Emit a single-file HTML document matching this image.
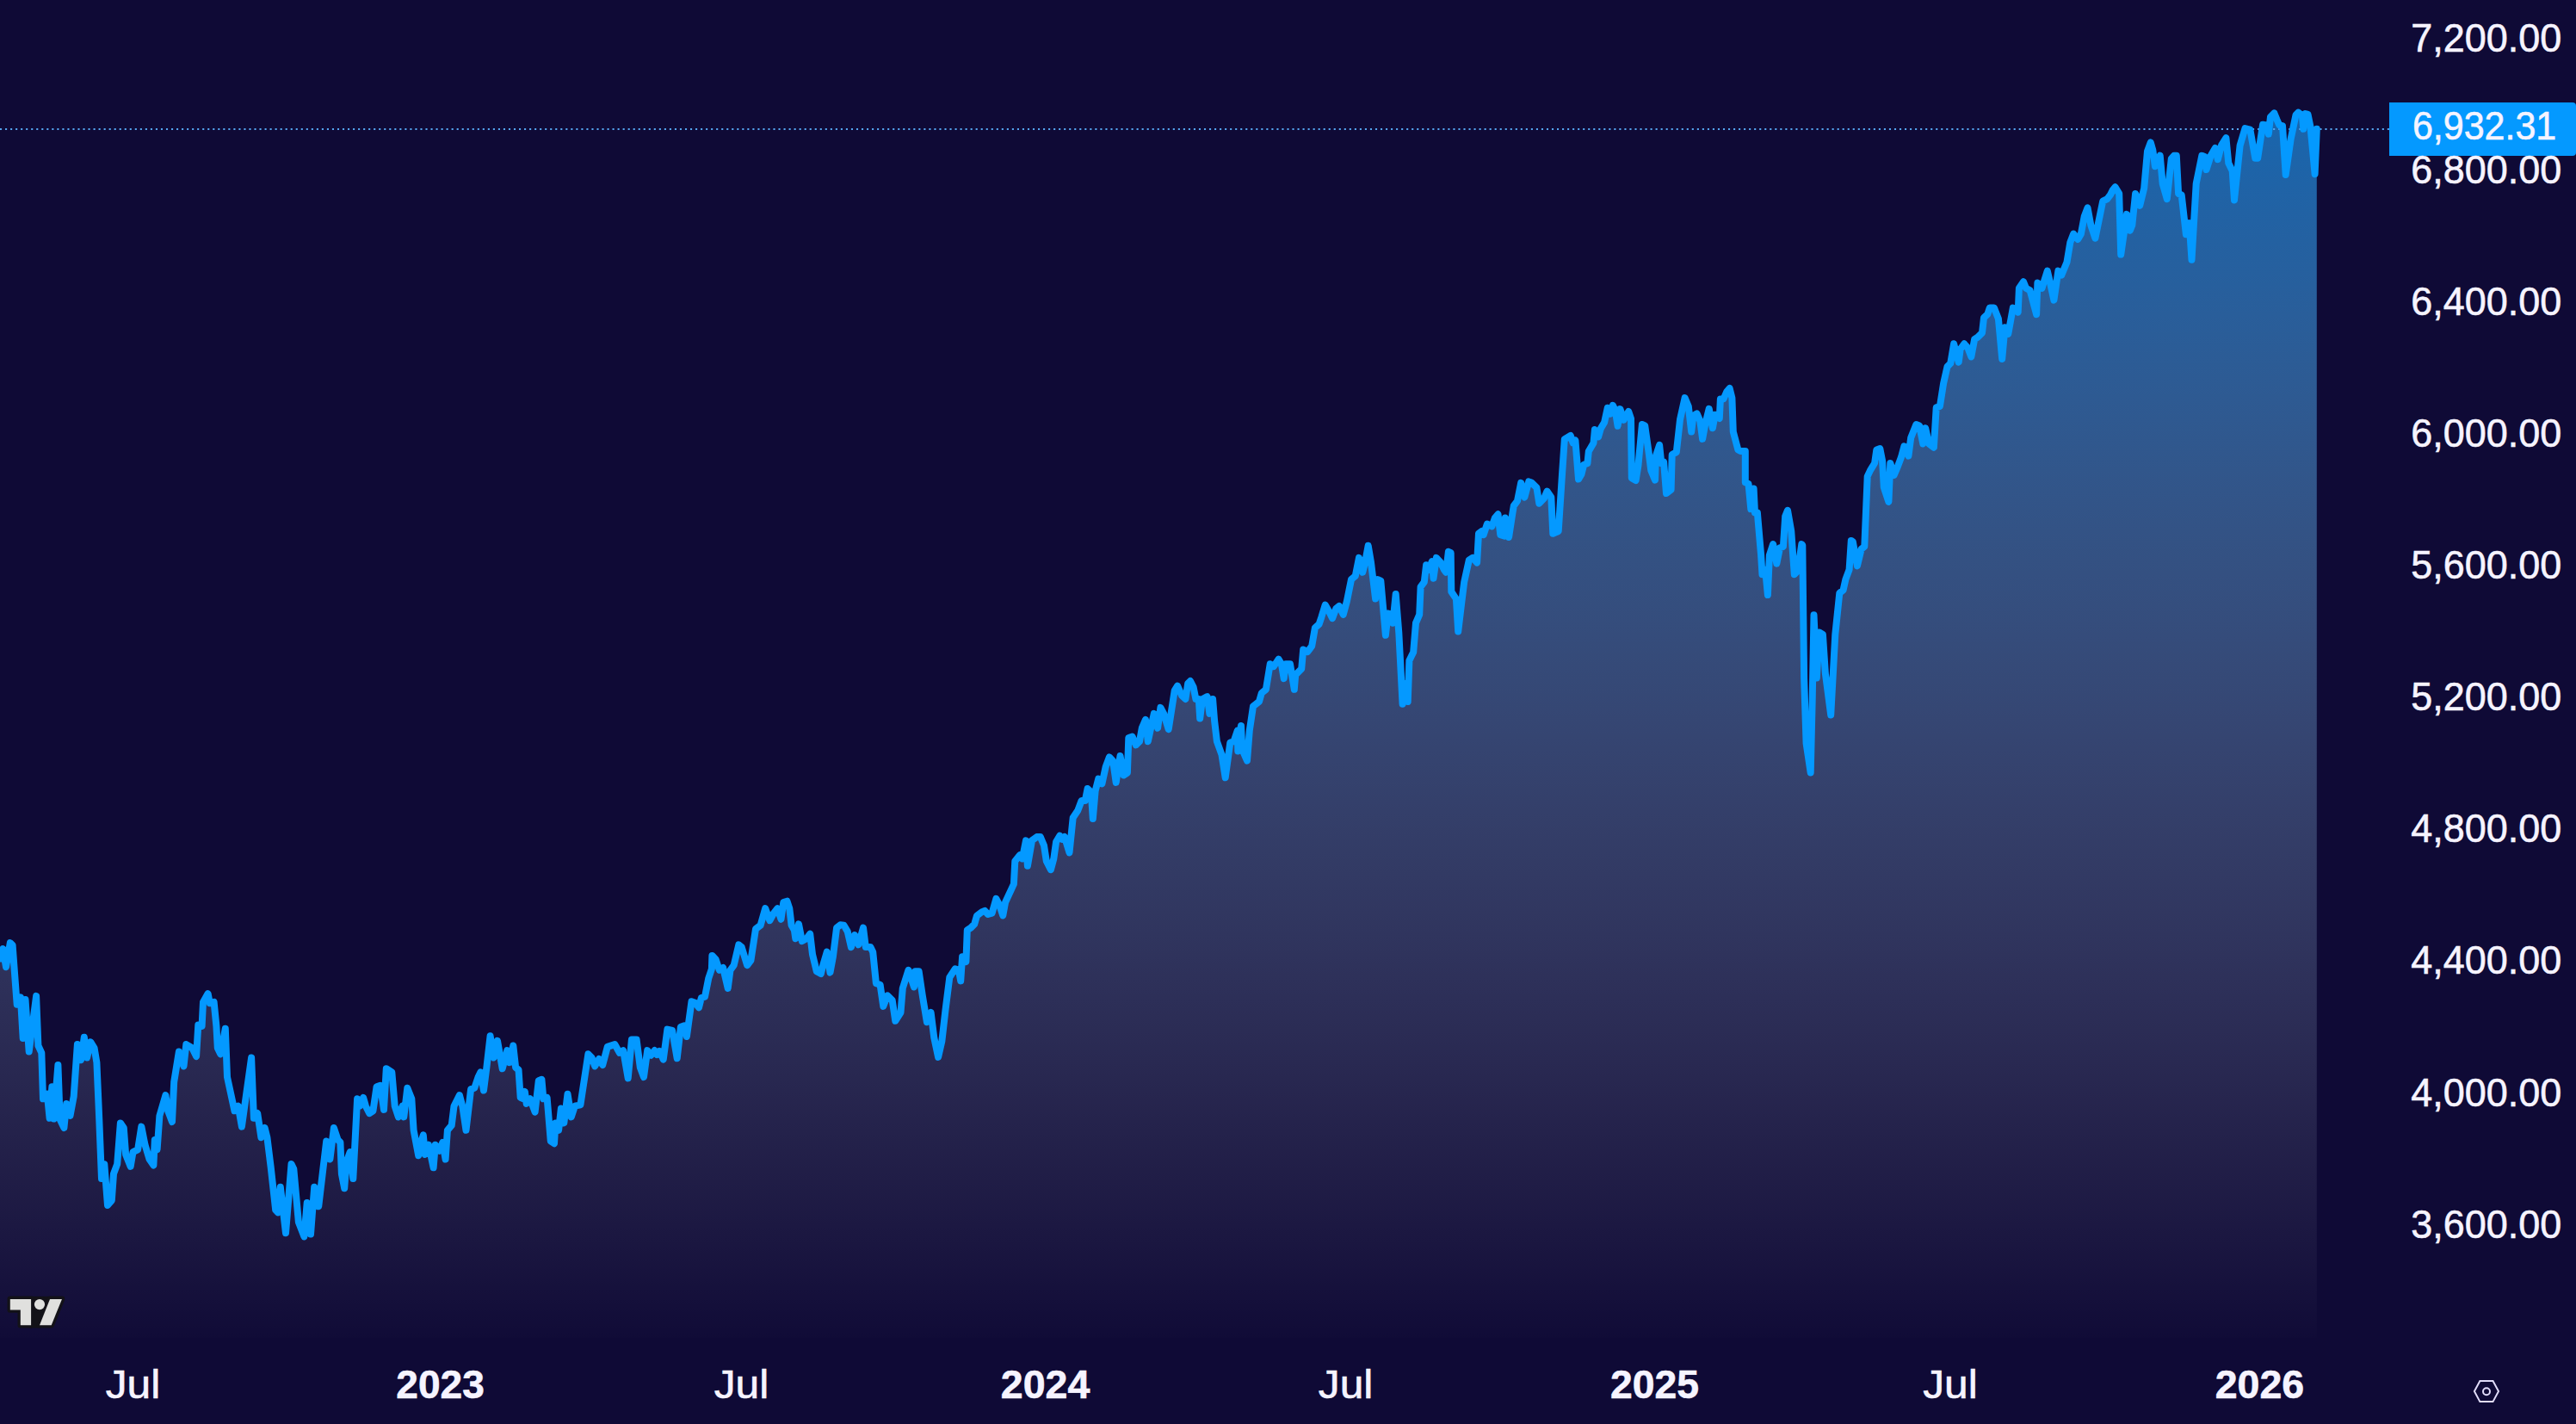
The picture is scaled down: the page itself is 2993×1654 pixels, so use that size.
<!DOCTYPE html>
<html><head><meta charset="utf-8"><title>Chart</title>
<style>
html,body{margin:0;padding:0;background:#0f0a36;}
body{width:2993px;height:1654px;overflow:hidden;font-family:"Liberation Sans",sans-serif;}
svg{display:block;}
text{font-family:"Liberation Sans",sans-serif;font-size:45.5px;fill:#f6f4ff;stroke:#f6f4ff;stroke-width:0.6px;}
</style></head><body>
<svg width="2993" height="1654" viewBox="0 0 2993 1654">
<defs>
<linearGradient id="g" gradientUnits="userSpaceOnUse" x1="0" y1="0" x2="0" y2="1568">
<stop offset="0" stop-color="#0a9bff" stop-opacity="0.65"/>
<stop offset="1" stop-color="#ffffff" stop-opacity="0"/>
</linearGradient>
</defs>
<rect width="2993" height="1654" fill="#0f0a36"/>
<path d="M-6.0,1112.0 L0.0,1113.4 L3.4,1102.1 L7.0,1123.2 L11.8,1095.1 L14.6,1097.9 L19.7,1166.7 L23.9,1158.3 L26.7,1206.1 L29.5,1161.1 L33.7,1221.5 L42.1,1156.9 L44.4,1214.5 L48.3,1222.9 L50.0,1276.3 L54.8,1270.7 L57.6,1298.8 L60.4,1262.2 L62.4,1299.6 L67.4,1237.0 L69.7,1300.2 L74.4,1310.0 L77.2,1281.9 L81.5,1296.0 L85.7,1273.5 L89.9,1213.1 L94.1,1231.3 L97.8,1204.7 L101.1,1228.5 L105.3,1210.3 L109.6,1217.3 L112.4,1234.2 L115.2,1298.8 L118.0,1369.0 L121.3,1352.1 L125.0,1399.9 L129.8,1394.3 L132.0,1363.4 L136.2,1352.1 L139.9,1304.4 L143.8,1310.0 L146.1,1340.9 L151.7,1354.9 L154.5,1338.1 L160.1,1335.3 L164.3,1308.6 L168.5,1329.7 L173.6,1346.5 L178.4,1353.5 L179.8,1324.0 L182.6,1335.3 L185.4,1296.0 L192.4,1272.1 L195.2,1290.3 L200.0,1303.0 L202.2,1256.6 L207.9,1221.5 L213.5,1238.4 L216.3,1213.1 L223.3,1217.3 L228.1,1227.1 L230.3,1190.6 L234.6,1192.0 L236.0,1163.9 L241.6,1154.1 L243.8,1165.3 L248.6,1163.9 L251.4,1192.0 L252.8,1217.3 L256.2,1224.3 L261.8,1194.8 L264.0,1251.0 L272.5,1290.3 L276.7,1284.7 L280.9,1308.6 L292.1,1228.5 L294.9,1298.8 L299.2,1293.1 L303.4,1321.2 L307.6,1310.0 L310.4,1321.2 L314.6,1354.9 L320.2,1405.5 L323.0,1408.3 L325.8,1378.8 L332.0,1432.2 L338.5,1352.1 L341.3,1357.8 L346.9,1419.6 L353.4,1436.4 L356.7,1397.1 L361.0,1433.6 L365.2,1378.8 L370.2,1401.3 L379.2,1325.4 L383.4,1346.5 L387.9,1310.0 L392.6,1324.0 L395.4,1326.9 L396.9,1363.4 L400.2,1380.2 L402.5,1349.3 L406.7,1338.1 L410.3,1369.0 L415.1,1276.3 L417.9,1284.7 L422.1,1274.9 L424.9,1284.7 L429.2,1293.1 L433.4,1290.3 L437.6,1262.2 L441.8,1260.8 L446.0,1288.9 L448.8,1241.2 L455.3,1245.4 L458.7,1284.7 L462.9,1297.4 L467.6,1284.7 L469.3,1297.4 L473.3,1263.7 L478.3,1276.3 L480.6,1312.8 L486.2,1342.3 L488.1,1329.7 L491.8,1318.4 L493.8,1340.9 L498.0,1329.7 L503.6,1356.3 L505.8,1329.7 L510.6,1336.7 L514.3,1326.9 L517.6,1346.5 L519.9,1312.8 L524.7,1307.2 L527.5,1284.7 L533.9,1272.1 L537.3,1284.7 L541.5,1312.8 L547.1,1265.1 L551.3,1263.7 L555.6,1251.0 L558.4,1245.4 L562.0,1266.5 L565.4,1239.8 L569.6,1203.3 L573.8,1228.5 L578.0,1208.9 L583.7,1241.2 L589.3,1220.1 L592.1,1234.2 L596.3,1214.5 L599.1,1239.8 L602.5,1242.6 L604.7,1274.9 L608.1,1276.3 L609.8,1267.9 L611.7,1281.9 L616.0,1276.3 L621.6,1291.7 L625.8,1255.2 L629.4,1253.8 L631.4,1276.3 L635.6,1274.9 L639.8,1325.4 L644.0,1328.3 L645.4,1304.4 L649.1,1312.8 L651.9,1287.5 L655.3,1304.4 L659.5,1270.7 L663.7,1297.4 L667.9,1284.7 L674.4,1283.3 L683.4,1224.3 L687.6,1228.5 L691.2,1238.4 L696.0,1229.9 L700.2,1237.0 L705.8,1215.9 L714.3,1213.1 L719.9,1222.9 L724.1,1220.1 L729.7,1252.4 L733.9,1207.5 L739.6,1207.5 L743.8,1239.8 L748.0,1251.0 L752.2,1220.1 L756.4,1225.7 L760.6,1220.1 L763.4,1225.1 L766.2,1220.9 L770.7,1230.7 L775.4,1195.6 L781.1,1197.0 L786.7,1229.3 L790.9,1192.8 L795.1,1191.4 L797.9,1204.0 L803.5,1163.3 L807.8,1164.7 L812.0,1170.3 L814.8,1159.1 L819.0,1157.7 L823.2,1136.6 L826.9,1125.4 L827.4,1109.9 L831.6,1114.2 L835.8,1126.8 L840.1,1124.0 L845.7,1147.9 L848.5,1126.8 L852.7,1121.2 L858.3,1097.3 L861.7,1100.1 L868.1,1121.2 L872.4,1115.6 L878.0,1079.0 L883.6,1074.8 L889.2,1055.2 L894.3,1069.2 L899.0,1060.8 L903.3,1055.2 L907.5,1067.8 L910.3,1048.1 L914.5,1046.7 L917.3,1055.2 L919.6,1074.8 L922.9,1080.4 L924.3,1090.3 L928.0,1073.4 L931.9,1093.1 L937.0,1090.3 L941.2,1084.7 L944.0,1108.5 L948.8,1128.2 L953.8,1131.0 L956.6,1119.8 L960.8,1105.7 L964.5,1129.6 L967.9,1111.3 L972.1,1077.6 L976.3,1074.3 L980.5,1074.8 L984.7,1081.9 L988.9,1100.1 L993.1,1086.1 L997.4,1097.3 L1003.0,1077.6 L1005.8,1100.1 L1011.4,1100.1 L1014.2,1105.7 L1017.9,1142.2 L1022.6,1143.7 L1026.3,1168.9 L1031.1,1156.3 L1036.7,1161.9 L1040.3,1185.8 L1046.5,1176.0 L1048.8,1147.9 L1055.5,1126.8 L1062.0,1146.5 L1063.4,1128.2 L1067.6,1128.2 L1071.8,1156.3 L1076.9,1187.2 L1081.6,1176.0 L1085.3,1205.4 L1090.1,1227.9 L1094.3,1209.7 L1098.5,1173.1 L1103.3,1135.2 L1109.7,1125.4 L1113.9,1126.8 L1116.2,1139.4 L1118.1,1111.3 L1122.4,1117.0 L1123.8,1080.4 L1128.0,1077.6 L1132.2,1073.4 L1135.0,1063.6 L1140.6,1059.4 L1144.2,1057.8 L1147.9,1062.0 L1152.6,1060.6 L1157.4,1043.8 L1161.1,1050.8 L1165.3,1063.4 L1168.1,1048.0 L1177.9,1026.9 L1179.3,1000.2 L1184.9,993.2 L1187.8,997.4 L1192.0,976.3 L1193.9,1005.8 L1199.0,976.3 L1204.6,972.1 L1208.8,972.1 L1213.0,982.0 L1215.8,1000.2 L1220.9,1010.1 L1224.3,997.4 L1227.1,977.8 L1231.3,970.7 L1234.1,974.9 L1236.9,972.1 L1242.5,990.4 L1246.7,949.7 L1252.4,941.2 L1256.6,930.0 L1260.8,930.0 L1263.6,916.0 L1267.8,920.2 L1269.8,951.1 L1272.6,918.8 L1276.2,904.7 L1280.4,910.3 L1284.7,890.7 L1288.9,879.4 L1293.1,883.7 L1296.7,908.9 L1301.5,878.0 L1305.7,900.5 L1309.9,897.7 L1311.3,857.0 L1315.6,855.6 L1319.8,865.4 L1324.0,861.2 L1326.8,845.7 L1331.0,835.9 L1333.8,861.2 L1340.8,828.9 L1345.1,845.7 L1348.4,821.9 L1352.1,828.9 L1357.7,847.1 L1364.7,802.2 L1368.1,796.6 L1373.1,807.8 L1377.4,812.0 L1380.2,793.8 L1383.0,791.0 L1386.6,798.0 L1389.4,812.0 L1392.8,812.0 L1394.2,834.5 L1397.0,812.0 L1402.6,809.2 L1405.4,828.9 L1409.1,812.0 L1411.1,837.3 L1413.9,861.2 L1419.5,876.6 L1423.7,903.3 L1429.3,862.6 L1433.5,861.2 L1437.8,848.5 L1438.3,872.4 L1442.0,842.9 L1443.4,871.0 L1449.0,883.7 L1451.8,848.5 L1456.0,820.4 L1463.0,814.8 L1465.8,805.0 L1470.9,800.8 L1475.7,771.3 L1479.9,774.1 L1485.5,765.7 L1488.9,771.3 L1491.7,788.1 L1493.9,771.3 L1499.0,771.3 L1503.8,800.8 L1505.2,783.9 L1512.2,776.9 L1514.2,754.4 L1519.2,757.2 L1524.2,750.4 L1527.9,729.3 L1532.6,725.1 L1535.4,716.7 L1539.7,702.6 L1543.9,709.7 L1548.1,718.1 L1552.3,706.9 L1556.0,704.0 L1560.7,713.9 L1564.9,698.4 L1570.0,673.1 L1574.8,668.9 L1579.0,647.9 L1583.2,664.7 L1586.0,653.5 L1589.7,633.8 L1593.0,653.5 L1598.1,695.6 L1600.9,673.1 L1604.3,674.6 L1609.9,737.8 L1612.7,712.5 L1616.9,713.9 L1618.3,723.7 L1621.7,690.0 L1625.3,734.9 L1629.6,817.8 L1632.4,793.9 L1635.7,815.0 L1637.4,767.2 L1642.2,757.4 L1645.0,723.7 L1649.2,713.9 L1650.6,681.6 L1654.8,676.0 L1657.1,656.3 L1660.4,661.9 L1663.8,652.1 L1665.5,671.7 L1668.9,647.9 L1673.9,653.5 L1677.9,661.9 L1680.1,664.7 L1682.9,640.8 L1685.7,642.2 L1686.3,687.2 L1691.9,695.6 L1694.2,733.5 L1698.4,698.4 L1701.2,676.0 L1706.8,650.7 L1711.0,647.9 L1716.1,653.5 L1718.0,619.8 L1721.7,617.0 L1723.7,621.2 L1727.9,608.5 L1733.5,611.3 L1736.9,601.5 L1740.5,597.3 L1743.3,621.2 L1748.1,622.6 L1748.9,601.5 L1753.1,624.0 L1757.4,595.9 L1758.8,587.5 L1763.0,581.9 L1767.2,560.8 L1771.4,577.6 L1776.2,559.4 L1779.8,560.8 L1785.4,566.4 L1788.3,584.7 L1793.9,579.0 L1797.5,570.6 L1802.3,577.6 L1804.3,619.8 L1810.7,617.0 L1814.9,552.4 L1817.8,510.2 L1824.8,506.0 L1827.6,514.4 L1830.4,511.6 L1834.0,556.6 L1837.4,551.0 L1840.2,539.7 L1844.4,538.3 L1845.8,524.3 L1851.5,514.4 L1852.9,499.0 L1857.1,507.4 L1859.9,497.6 L1864.1,490.6 L1867.8,473.7 L1871.1,480.7 L1873.9,470.9 L1876.7,476.5 L1879.6,494.8 L1882.4,475.1 L1886.6,487.8 L1892.2,477.9 L1895.0,486.3 L1895.8,555.2 L1900.6,558.0 L1903.4,540.8 L1907.9,493.0 L1911.2,494.4 L1915.4,523.9 L1918.3,546.4 L1923.0,557.6 L1923.9,529.6 L1928.1,516.9 L1930.3,538.0 L1933.1,536.6 L1936.0,573.1 L1941.6,568.9 L1942.7,528.1 L1947.8,525.3 L1952.0,487.4 L1957.6,462.1 L1961.8,472.0 L1965.2,501.5 L1967.4,483.2 L1971.6,480.4 L1975.3,488.8 L1978.1,509.9 L1981.5,491.6 L1985.7,474.8 L1989.9,497.2 L1992.7,481.8 L1997.8,486.0 L1998.9,463.5 L2002.5,463.5 L2006.2,455.1 L2009.6,450.9 L2012.4,462.1 L2013.8,501.5 L2019.4,522.5 L2022.2,523.9 L2027.8,523.9 L2027.8,560.4 L2031.5,561.9 L2034.3,591.3 L2037.6,567.5 L2039.0,595.6 L2041.9,595.6 L2042.7,605.4 L2046.1,644.7 L2047.5,667.2 L2051.1,661.6 L2053.9,691.1 L2055.9,644.7 L2060.1,632.1 L2064.3,654.6 L2068.0,636.3 L2071.9,634.9 L2074.2,599.8 L2077.0,592.8 L2081.2,616.6 L2084.8,667.2 L2088.8,663.0 L2093.3,632.1 L2094.3,633.3 L2096.1,787.5 L2098.6,863.3 L2103.7,897.5 L2105.7,812.8 L2107.5,714.2 L2110.8,787.5 L2113.8,734.4 L2117.9,736.9 L2120.9,782.4 L2127.2,830.5 L2132.3,736.9 L2137.3,688.9 L2141.6,685.4 L2144.4,672.8 L2148.6,661.6 L2150.8,627.9 L2152.8,629.3 L2157.9,657.4 L2162.6,637.7 L2166.3,634.9 L2169.7,553.4 L2173.0,546.4 L2178.1,538.0 L2180.3,522.5 L2184.3,521.1 L2187.1,535.2 L2188.8,566.1 L2194.4,582.9 L2196.3,538.0 L2200.6,552.0 L2204.8,542.2 L2209.0,531.0 L2212.4,518.3 L2217.4,529.6 L2220.2,508.5 L2226.4,493.0 L2230.1,494.4 L2234.3,515.5 L2237.1,497.2 L2241.3,515.5 L2246.9,519.7 L2249.7,473.4 L2253.9,472.0 L2258.1,445.3 L2262.5,425.8 L2266.3,422.0 L2270.1,399.3 L2275.7,420.7 L2277.7,405.6 L2282.2,399.3 L2286.5,404.3 L2290.3,414.4 L2294.1,394.2 L2297.9,391.7 L2303.0,386.6 L2305.0,368.9 L2309.3,365.1 L2311.8,357.6 L2316.9,357.6 L2321.9,370.2 L2326.2,416.9 L2329.5,380.3 L2333.3,387.9 L2338.8,357.6 L2344.7,362.6 L2345.9,334.8 L2351.0,327.2 L2354.0,334.8 L2358.6,337.3 L2366.1,365.1 L2367.4,328.5 L2372.5,334.8 L2378.8,314.6 L2382.6,331.0 L2386.4,348.7 L2391.4,314.6 L2395.2,319.6 L2401.5,304.5 L2405.3,281.7 L2409.1,271.6 L2414.2,277.9 L2417.9,271.6 L2421.7,251.4 L2425.5,241.3 L2429.3,261.5 L2434.4,276.7 L2443.2,233.7 L2448.3,231.2 L2452.1,226.1 L2454.6,221.1 L2457.6,217.3 L2462.2,224.9 L2464.2,295.6 L2471.0,248.9 L2474.8,267.8 L2477.3,261.5 L2481.1,224.9 L2486.2,238.8 L2491.2,218.6 L2495.0,175.6 L2498.8,165.5 L2501.3,174.3 L2503.9,193.3 L2509.7,180.7 L2512.7,213.5 L2517.8,231.2 L2522.8,184.4 L2525.9,180.8 L2528.8,180.8 L2531.1,225.0 L2534.7,226.5 L2539.9,272.2 L2543.6,259.0 L2546.5,301.7 L2551.7,213.2 L2558.3,180.8 L2562.0,182.3 L2563.5,197.0 L2568.7,180.8 L2573.8,171.9 L2576.8,185.2 L2581.2,168.3 L2586.4,160.1 L2589.3,189.6 L2593.7,198.5 L2596.0,232.4 L2602.6,169.0 L2608.5,149.1 L2614.4,150.6 L2620.3,183.7 L2623.2,183.7 L2629.1,144.7 L2633.6,145.4 L2635.8,155.7 L2638.0,135.8 L2642.4,131.4 L2645.4,138.8 L2648.3,145.4 L2652.0,146.1 L2655.7,202.9 L2661.6,161.6 L2667.5,133.6 L2670.4,130.6 L2674.9,134.3 L2676.3,149.8 L2678.6,132.1 L2681.5,132.9 L2684.5,147.6 L2689.6,202.2 L2691.8,149.8 L2691.8,1553.5 L-6.0,1553.5 Z" fill="url(#g)"/>
<line x1="0" y1="150" x2="2776" y2="150" stroke="#55a5f0" stroke-width="2.1" stroke-dasharray="2.1 3.93"/>
<polyline points="-6.0,1112.0 0.0,1113.4 3.4,1102.1 7.0,1123.2 11.8,1095.1 14.6,1097.9 19.7,1166.7 23.9,1158.3 26.7,1206.1 29.5,1161.1 33.7,1221.5 42.1,1156.9 44.4,1214.5 48.3,1222.9 50.0,1276.3 54.8,1270.7 57.6,1298.8 60.4,1262.2 62.4,1299.6 67.4,1237.0 69.7,1300.2 74.4,1310.0 77.2,1281.9 81.5,1296.0 85.7,1273.5 89.9,1213.1 94.1,1231.3 97.8,1204.7 101.1,1228.5 105.3,1210.3 109.6,1217.3 112.4,1234.2 115.2,1298.8 118.0,1369.0 121.3,1352.1 125.0,1399.9 129.8,1394.3 132.0,1363.4 136.2,1352.1 139.9,1304.4 143.8,1310.0 146.1,1340.9 151.7,1354.9 154.5,1338.1 160.1,1335.3 164.3,1308.6 168.5,1329.7 173.6,1346.5 178.4,1353.5 179.8,1324.0 182.6,1335.3 185.4,1296.0 192.4,1272.1 195.2,1290.3 200.0,1303.0 202.2,1256.6 207.9,1221.5 213.5,1238.4 216.3,1213.1 223.3,1217.3 228.1,1227.1 230.3,1190.6 234.6,1192.0 236.0,1163.9 241.6,1154.1 243.8,1165.3 248.6,1163.9 251.4,1192.0 252.8,1217.3 256.2,1224.3 261.8,1194.8 264.0,1251.0 272.5,1290.3 276.7,1284.7 280.9,1308.6 292.1,1228.5 294.9,1298.8 299.2,1293.1 303.4,1321.2 307.6,1310.0 310.4,1321.2 314.6,1354.9 320.2,1405.5 323.0,1408.3 325.8,1378.8 332.0,1432.2 338.5,1352.1 341.3,1357.8 346.9,1419.6 353.4,1436.4 356.7,1397.1 361.0,1433.6 365.2,1378.8 370.2,1401.3 379.2,1325.4 383.4,1346.5 387.9,1310.0 392.6,1324.0 395.4,1326.9 396.9,1363.4 400.2,1380.2 402.5,1349.3 406.7,1338.1 410.3,1369.0 415.1,1276.3 417.9,1284.7 422.1,1274.9 424.9,1284.7 429.2,1293.1 433.4,1290.3 437.6,1262.2 441.8,1260.8 446.0,1288.9 448.8,1241.2 455.3,1245.4 458.7,1284.7 462.9,1297.4 467.6,1284.7 469.3,1297.4 473.3,1263.7 478.3,1276.3 480.6,1312.8 486.2,1342.3 488.1,1329.7 491.8,1318.4 493.8,1340.9 498.0,1329.7 503.6,1356.3 505.8,1329.7 510.6,1336.7 514.3,1326.9 517.6,1346.5 519.9,1312.8 524.7,1307.2 527.5,1284.7 533.9,1272.1 537.3,1284.7 541.5,1312.8 547.1,1265.1 551.3,1263.7 555.6,1251.0 558.4,1245.4 562.0,1266.5 565.4,1239.8 569.6,1203.3 573.8,1228.5 578.0,1208.9 583.7,1241.2 589.3,1220.1 592.1,1234.2 596.3,1214.5 599.1,1239.8 602.5,1242.6 604.7,1274.9 608.1,1276.3 609.8,1267.9 611.7,1281.9 616.0,1276.3 621.6,1291.7 625.8,1255.2 629.4,1253.8 631.4,1276.3 635.6,1274.9 639.8,1325.4 644.0,1328.3 645.4,1304.4 649.1,1312.8 651.9,1287.5 655.3,1304.4 659.5,1270.7 663.7,1297.4 667.9,1284.7 674.4,1283.3 683.4,1224.3 687.6,1228.5 691.2,1238.4 696.0,1229.9 700.2,1237.0 705.8,1215.9 714.3,1213.1 719.9,1222.9 724.1,1220.1 729.7,1252.4 733.9,1207.5 739.6,1207.5 743.8,1239.8 748.0,1251.0 752.2,1220.1 756.4,1225.7 760.6,1220.1 763.4,1225.1 766.2,1220.9 770.7,1230.7 775.4,1195.6 781.1,1197.0 786.7,1229.3 790.9,1192.8 795.1,1191.4 797.9,1204.0 803.5,1163.3 807.8,1164.7 812.0,1170.3 814.8,1159.1 819.0,1157.7 823.2,1136.6 826.9,1125.4 827.4,1109.9 831.6,1114.2 835.8,1126.8 840.1,1124.0 845.7,1147.9 848.5,1126.8 852.7,1121.2 858.3,1097.3 861.7,1100.1 868.1,1121.2 872.4,1115.6 878.0,1079.0 883.6,1074.8 889.2,1055.2 894.3,1069.2 899.0,1060.8 903.3,1055.2 907.5,1067.8 910.3,1048.1 914.5,1046.7 917.3,1055.2 919.6,1074.8 922.9,1080.4 924.3,1090.3 928.0,1073.4 931.9,1093.1 937.0,1090.3 941.2,1084.7 944.0,1108.5 948.8,1128.2 953.8,1131.0 956.6,1119.8 960.8,1105.7 964.5,1129.6 967.9,1111.3 972.1,1077.6 976.3,1074.3 980.5,1074.8 984.7,1081.9 988.9,1100.1 993.1,1086.1 997.4,1097.3 1003.0,1077.6 1005.8,1100.1 1011.4,1100.1 1014.2,1105.7 1017.9,1142.2 1022.6,1143.7 1026.3,1168.9 1031.1,1156.3 1036.7,1161.9 1040.3,1185.8 1046.5,1176.0 1048.8,1147.9 1055.5,1126.8 1062.0,1146.5 1063.4,1128.2 1067.6,1128.2 1071.8,1156.3 1076.9,1187.2 1081.6,1176.0 1085.3,1205.4 1090.1,1227.9 1094.3,1209.7 1098.5,1173.1 1103.3,1135.2 1109.7,1125.4 1113.9,1126.8 1116.2,1139.4 1118.1,1111.3 1122.4,1117.0 1123.8,1080.4 1128.0,1077.6 1132.2,1073.4 1135.0,1063.6 1140.6,1059.4 1144.2,1057.8 1147.9,1062.0 1152.6,1060.6 1157.4,1043.8 1161.1,1050.8 1165.3,1063.4 1168.1,1048.0 1177.9,1026.9 1179.3,1000.2 1184.9,993.2 1187.8,997.4 1192.0,976.3 1193.9,1005.8 1199.0,976.3 1204.6,972.1 1208.8,972.1 1213.0,982.0 1215.8,1000.2 1220.9,1010.1 1224.3,997.4 1227.1,977.8 1231.3,970.7 1234.1,974.9 1236.9,972.1 1242.5,990.4 1246.7,949.7 1252.4,941.2 1256.6,930.0 1260.8,930.0 1263.6,916.0 1267.8,920.2 1269.8,951.1 1272.6,918.8 1276.2,904.7 1280.4,910.3 1284.7,890.7 1288.9,879.4 1293.1,883.7 1296.7,908.9 1301.5,878.0 1305.7,900.5 1309.9,897.7 1311.3,857.0 1315.6,855.6 1319.8,865.4 1324.0,861.2 1326.8,845.7 1331.0,835.9 1333.8,861.2 1340.8,828.9 1345.1,845.7 1348.4,821.9 1352.1,828.9 1357.7,847.1 1364.7,802.2 1368.1,796.6 1373.1,807.8 1377.4,812.0 1380.2,793.8 1383.0,791.0 1386.6,798.0 1389.4,812.0 1392.8,812.0 1394.2,834.5 1397.0,812.0 1402.6,809.2 1405.4,828.9 1409.1,812.0 1411.1,837.3 1413.9,861.2 1419.5,876.6 1423.7,903.3 1429.3,862.6 1433.5,861.2 1437.8,848.5 1438.3,872.4 1442.0,842.9 1443.4,871.0 1449.0,883.7 1451.8,848.5 1456.0,820.4 1463.0,814.8 1465.8,805.0 1470.9,800.8 1475.7,771.3 1479.9,774.1 1485.5,765.7 1488.9,771.3 1491.7,788.1 1493.9,771.3 1499.0,771.3 1503.8,800.8 1505.2,783.9 1512.2,776.9 1514.2,754.4 1519.2,757.2 1524.2,750.4 1527.9,729.3 1532.6,725.1 1535.4,716.7 1539.7,702.6 1543.9,709.7 1548.1,718.1 1552.3,706.9 1556.0,704.0 1560.7,713.9 1564.9,698.4 1570.0,673.1 1574.8,668.9 1579.0,647.9 1583.2,664.7 1586.0,653.5 1589.7,633.8 1593.0,653.5 1598.1,695.6 1600.9,673.1 1604.3,674.6 1609.9,737.8 1612.7,712.5 1616.9,713.9 1618.3,723.7 1621.7,690.0 1625.3,734.9 1629.6,817.8 1632.4,793.9 1635.7,815.0 1637.4,767.2 1642.2,757.4 1645.0,723.7 1649.2,713.9 1650.6,681.6 1654.8,676.0 1657.1,656.3 1660.4,661.9 1663.8,652.1 1665.5,671.7 1668.9,647.9 1673.9,653.5 1677.9,661.9 1680.1,664.7 1682.9,640.8 1685.7,642.2 1686.3,687.2 1691.9,695.6 1694.2,733.5 1698.4,698.4 1701.2,676.0 1706.8,650.7 1711.0,647.9 1716.1,653.5 1718.0,619.8 1721.7,617.0 1723.7,621.2 1727.9,608.5 1733.5,611.3 1736.9,601.5 1740.5,597.3 1743.3,621.2 1748.1,622.6 1748.9,601.5 1753.1,624.0 1757.4,595.9 1758.8,587.5 1763.0,581.9 1767.2,560.8 1771.4,577.6 1776.2,559.4 1779.8,560.8 1785.4,566.4 1788.3,584.7 1793.9,579.0 1797.5,570.6 1802.3,577.6 1804.3,619.8 1810.7,617.0 1814.9,552.4 1817.8,510.2 1824.8,506.0 1827.6,514.4 1830.4,511.6 1834.0,556.6 1837.4,551.0 1840.2,539.7 1844.4,538.3 1845.8,524.3 1851.5,514.4 1852.9,499.0 1857.1,507.4 1859.9,497.6 1864.1,490.6 1867.8,473.7 1871.1,480.7 1873.9,470.9 1876.7,476.5 1879.6,494.8 1882.4,475.1 1886.6,487.8 1892.2,477.9 1895.0,486.3 1895.8,555.2 1900.6,558.0 1903.4,540.8 1907.9,493.0 1911.2,494.4 1915.4,523.9 1918.3,546.4 1923.0,557.6 1923.9,529.6 1928.1,516.9 1930.3,538.0 1933.1,536.6 1936.0,573.1 1941.6,568.9 1942.7,528.1 1947.8,525.3 1952.0,487.4 1957.6,462.1 1961.8,472.0 1965.2,501.5 1967.4,483.2 1971.6,480.4 1975.3,488.8 1978.1,509.9 1981.5,491.6 1985.7,474.8 1989.9,497.2 1992.7,481.8 1997.8,486.0 1998.9,463.5 2002.5,463.5 2006.2,455.1 2009.6,450.9 2012.4,462.1 2013.8,501.5 2019.4,522.5 2022.2,523.9 2027.8,523.9 2027.8,560.4 2031.5,561.9 2034.3,591.3 2037.6,567.5 2039.0,595.6 2041.9,595.6 2042.7,605.4 2046.1,644.7 2047.5,667.2 2051.1,661.6 2053.9,691.1 2055.9,644.7 2060.1,632.1 2064.3,654.6 2068.0,636.3 2071.9,634.9 2074.2,599.8 2077.0,592.8 2081.2,616.6 2084.8,667.2 2088.8,663.0 2093.3,632.1 2094.3,633.3 2096.1,787.5 2098.6,863.3 2103.7,897.5 2105.7,812.8 2107.5,714.2 2110.8,787.5 2113.8,734.4 2117.9,736.9 2120.9,782.4 2127.2,830.5 2132.3,736.9 2137.3,688.9 2141.6,685.4 2144.4,672.8 2148.6,661.6 2150.8,627.9 2152.8,629.3 2157.9,657.4 2162.6,637.7 2166.3,634.9 2169.7,553.4 2173.0,546.4 2178.1,538.0 2180.3,522.5 2184.3,521.1 2187.1,535.2 2188.8,566.1 2194.4,582.9 2196.3,538.0 2200.6,552.0 2204.8,542.2 2209.0,531.0 2212.4,518.3 2217.4,529.6 2220.2,508.5 2226.4,493.0 2230.1,494.4 2234.3,515.5 2237.1,497.2 2241.3,515.5 2246.9,519.7 2249.7,473.4 2253.9,472.0 2258.1,445.3 2262.5,425.8 2266.3,422.0 2270.1,399.3 2275.7,420.7 2277.7,405.6 2282.2,399.3 2286.5,404.3 2290.3,414.4 2294.1,394.2 2297.9,391.7 2303.0,386.6 2305.0,368.9 2309.3,365.1 2311.8,357.6 2316.9,357.6 2321.9,370.2 2326.2,416.9 2329.5,380.3 2333.3,387.9 2338.8,357.6 2344.7,362.6 2345.9,334.8 2351.0,327.2 2354.0,334.8 2358.6,337.3 2366.1,365.1 2367.4,328.5 2372.5,334.8 2378.8,314.6 2382.6,331.0 2386.4,348.7 2391.4,314.6 2395.2,319.6 2401.5,304.5 2405.3,281.7 2409.1,271.6 2414.2,277.9 2417.9,271.6 2421.7,251.4 2425.5,241.3 2429.3,261.5 2434.4,276.7 2443.2,233.7 2448.3,231.2 2452.1,226.1 2454.6,221.1 2457.6,217.3 2462.2,224.9 2464.2,295.6 2471.0,248.9 2474.8,267.8 2477.3,261.5 2481.1,224.9 2486.2,238.8 2491.2,218.6 2495.0,175.6 2498.8,165.5 2501.3,174.3 2503.9,193.3 2509.7,180.7 2512.7,213.5 2517.8,231.2 2522.8,184.4 2525.9,180.8 2528.8,180.8 2531.1,225.0 2534.7,226.5 2539.9,272.2 2543.6,259.0 2546.5,301.7 2551.7,213.2 2558.3,180.8 2562.0,182.3 2563.5,197.0 2568.7,180.8 2573.8,171.9 2576.8,185.2 2581.2,168.3 2586.4,160.1 2589.3,189.6 2593.7,198.5 2596.0,232.4 2602.6,169.0 2608.5,149.1 2614.4,150.6 2620.3,183.7 2623.2,183.7 2629.1,144.7 2633.6,145.4 2635.8,155.7 2638.0,135.8 2642.4,131.4 2645.4,138.8 2648.3,145.4 2652.0,146.1 2655.7,202.9 2661.6,161.6 2667.5,133.6 2670.4,130.6 2674.9,134.3 2676.3,149.8 2678.6,132.1 2681.5,132.9 2684.5,147.6 2689.6,202.2 2691.8,149.8" fill="none" stroke="#0499ff" stroke-width="8" stroke-linejoin="round" stroke-linecap="round"/>
<path d="M2776,119 H2989 a4,4 0 0 1 4,4 V177 a4,4 0 0 1 -4,4 H2776 Z" fill="#0499ff"/>
<text x="2970.3" y="161.8" text-anchor="end" textLength="167.4" lengthAdjust="spacingAndGlyphs">6,932.31</text>
<text x="2976.3" y="59.9" text-anchor="end" textLength="175" lengthAdjust="spacingAndGlyphs">7,200.00</text>
<text x="2976.3" y="213.0" text-anchor="end" textLength="175" lengthAdjust="spacingAndGlyphs">6,800.00</text>
<text x="2976.3" y="366.0" text-anchor="end" textLength="175" lengthAdjust="spacingAndGlyphs">6,400.00</text>
<text x="2976.3" y="519.1" text-anchor="end" textLength="175" lengthAdjust="spacingAndGlyphs">6,000.00</text>
<text x="2976.3" y="672.2" text-anchor="end" textLength="175" lengthAdjust="spacingAndGlyphs">5,600.00</text>
<text x="2976.3" y="825.2" text-anchor="end" textLength="175" lengthAdjust="spacingAndGlyphs">5,200.00</text>
<text x="2976.3" y="978.3" text-anchor="end" textLength="175" lengthAdjust="spacingAndGlyphs">4,800.00</text>
<text x="2976.3" y="1131.4" text-anchor="end" textLength="175" lengthAdjust="spacingAndGlyphs">4,400.00</text>
<text x="2976.3" y="1284.5" text-anchor="end" textLength="175" lengthAdjust="spacingAndGlyphs">4,000.00</text>
<text x="2976.3" y="1437.5" text-anchor="end" textLength="175" lengthAdjust="spacingAndGlyphs">3,600.00</text>

<text x="154.5" y="1623.8" text-anchor="middle" textLength="63.5" lengthAdjust="spacingAndGlyphs">Jul</text>
<text x="511.6" y="1623.8" text-anchor="middle" textLength="102.5" lengthAdjust="spacingAndGlyphs" font-weight="bold">2023</text>
<text x="861.5" y="1623.8" text-anchor="middle" textLength="63.5" lengthAdjust="spacingAndGlyphs">Jul</text>
<text x="1214.6" y="1623.8" text-anchor="middle" textLength="103.5" lengthAdjust="spacingAndGlyphs" font-weight="bold">2024</text>
<text x="1563.6" y="1623.8" text-anchor="middle" textLength="63.5" lengthAdjust="spacingAndGlyphs">Jul</text>
<text x="1922.4" y="1623.8" text-anchor="middle" textLength="103" lengthAdjust="spacingAndGlyphs" font-weight="bold">2025</text>
<text x="2266" y="1623.8" text-anchor="middle" textLength="63.5" lengthAdjust="spacingAndGlyphs">Jul</text>
<text x="2625.4" y="1623.8" text-anchor="middle" textLength="103.5" lengthAdjust="spacingAndGlyphs" font-weight="bold">2026</text>

<g id="logo">
<g fill="#131218" stroke="#131218" stroke-width="6.6" stroke-linejoin="round">
<path d="M36,1509 H58 L46,1539.2 H36 Z"/>
<path d="M11.8,1508.9 H36.1 V1539.2 H23.8 V1521.5 H11.8 Z"/>
<circle cx="46" cy="1515.1" r="6.1"/>
<path d="M58,1508.9 H72 L59.7,1539.2 H46 Z"/>
</g>
<g fill="#e0e0de">
<path d="M11.8,1508.9 H36.1 V1539.2 H23.8 V1521.5 H11.8 Z"/>
<circle cx="46" cy="1515.1" r="6.1"/>
<path d="M58,1508.9 H72 L59.7,1539.2 H46 Z"/>
</g>
</g>
<g fill="none" stroke="#e1dcfa" stroke-width="2">
<path d="M2874.9,1616 L2881.4,1604 H2896.5 L2903,1616 L2896.5,1628.1 H2881.4 Z"/>
<circle cx="2889" cy="1616.2" r="4"/>
</g>
</svg>
</body></html>
